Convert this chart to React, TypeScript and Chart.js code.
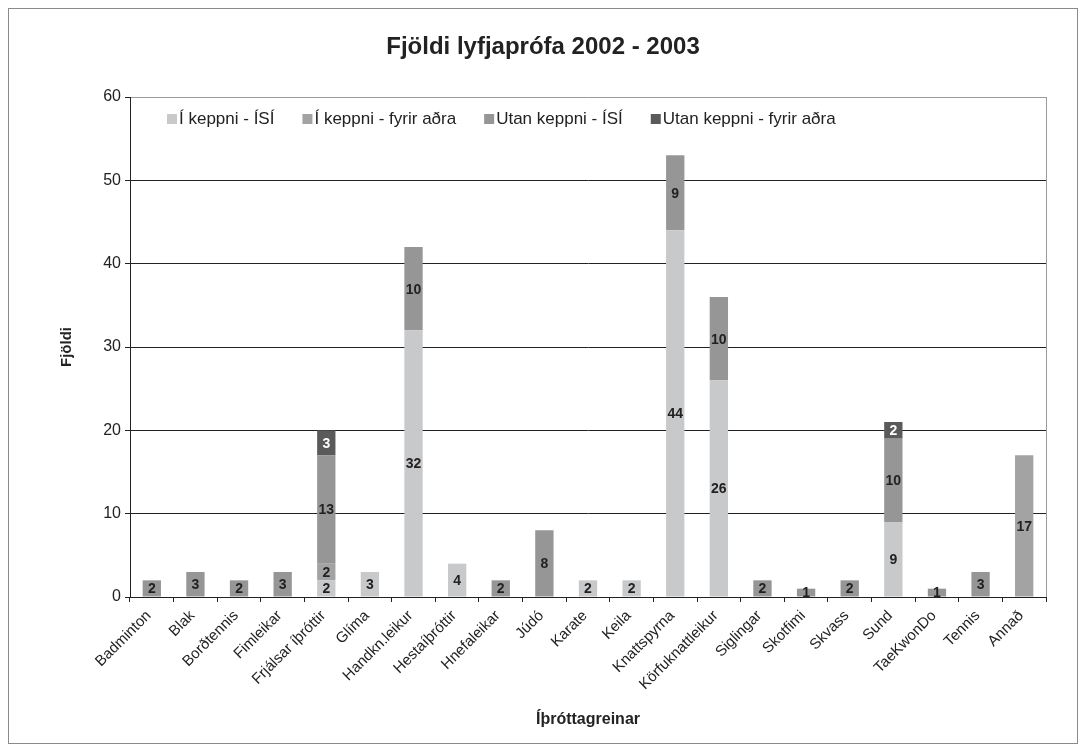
import { useEffect, useRef } from "react";
import { Chart, registerables } from "chart.js";
Chart.register(...registerables);

const categories = [
  "Badminton", "Blak", "Borðtennis", "Fimleikar", "Frjálsar íþróttir", "Glíma",
  "Handkn.leikur", "Hestaíþróttir", "Hnefaleikar", "Júdó", "Karate", "Keila",
  "Knattspyrna", "Körfuknattleikur", "Siglingar", "Skotfimi", "Skvass", "Sund",
  "TaeKwonDo", "Tennis", "Annað",
];
const seriesNames = ["Í keppni - ÍSÍ", "Í keppni - fyrir aðra", "Utan keppni - ÍSÍ", "Utan keppni - fyrir aðra"];
const iKeppniISI = [0, 0, 0, 0, 2, 3, 32, 4, 0, 0, 2, 2, 44, 26, 0, 0, 0, 9, 0, 0, 0];
const iKeppniAdra = [0, 0, 0, 0, 2, 0, 0, 0, 0, 0, 0, 0, 0, 0, 0, 0, 0, 0, 0, 0, 17];
const utanISI = [2, 3, 2, 3, 13, 0, 10, 0, 2, 8, 0, 0, 9, 10, 2, 1, 2, 10, 1, 3, 0];
const utanAdra = [0, 0, 0, 0, 3, 0, 0, 0, 0, 0, 0, 0, 0, 0, 0, 0, 0, 2, 0, 0, 0];
const colors = ["#c8c9cb", "#a3a3a3", "#969696", "#5a5a5a"];
const yTicks = [0, 10, 20, 30, 40, 50, 60];
const title = "Fjöldi lyfjaprófa 2002 - 2003";
const xTitle = "Íþróttagreinar";
const yTitle = "Fjöldi";

const FONT = "'Liberation Sans', Arial, Helvetica, sans-serif";

export default function App() {
  const ref = useRef<HTMLCanvasElement>(null);
  useEffect(() => {
    if (!ref.current) return;
    const decor = {
      id: "decor",
      afterDatasetsDraw(chart: any) {
        const ctx = chart.ctx;
        ctx.save();
        ctx.font = `bold 14px ${FONT}`;
        ctx.textAlign = "center";
        ctx.textBaseline = "middle";
        chart.data.datasets.forEach((ds: any, di: number) => {
          const meta = chart.getDatasetMeta(di);
          meta.data.forEach((el: any, i: number) => {
            const v = ds.data[i];
            if (!v) return;
            const p = el.getProps(["x", "y", "base"], true);
            ctx.fillStyle = di === 3 ? "#ffffff" : "#222222";
            ctx.fillText(String(v), p.x, (p.y + p.base) / 2 + 1);
          });
        });
        ctx.restore();
      },
      afterDraw(chart: any) {
        const ctx = chart.ctx;
        const a = chart.chartArea;
        ctx.save();
        ctx.strokeStyle = "#9a9a9a";
        ctx.lineWidth = 1;
        ctx.beginPath();
        ctx.moveTo(Math.round(a.right) + 0.5, a.top);
        ctx.lineTo(Math.round(a.right) + 0.5, a.bottom);
        ctx.stroke();
        ctx.fillStyle = "#222222";
        ctx.font = `bold 24px ${FONT}`;
        ctx.textAlign = "center";
        ctx.textBaseline = "middle";
        ctx.fillText(title, chart.width / 2, 38);
        ctx.font = `bold 16px ${FONT}`;
        ctx.fillText(xTitle, (a.left + a.right) / 2, 711);
        ctx.font = `bold 15px ${FONT}`;
        ctx.save();
        ctx.translate(58, (a.top + a.bottom) / 2);
        ctx.rotate(-Math.PI / 2);
        ctx.fillText(yTitle, 0, 0);
        ctx.restore();
        ctx.font = `17px ${FONT}`;
        ctx.textAlign = "left";
        let x = 158;
        const y = 110;
        chart.data.datasets.forEach((ds: any) => {
          ctx.fillStyle = ds.backgroundColor;
          ctx.fillRect(x, y - 5, 10, 10);
          x += 12;
          ctx.fillStyle = "#222222";
          ctx.fillText(ds.label, x, y);
          x += ctx.measureText(ds.label).width + 28;
        });
        ctx.restore();
      },
    };
    const chart = new Chart(ref.current, {
      type: "bar",
      data: {
        labels: categories,
        datasets: [iKeppniISI, iKeppniAdra, utanISI, utanAdra].map((d, i) => ({
          label: seriesNames[i],
          data: d,
          backgroundColor: colors[i],
          borderWidth: 0,
          barPercentage: 1,
          categoryPercentage: 0.42,
        })),
      },
      options: {
        animation: false,
        responsive: false,
        devicePixelRatio: 1,
        layout: { padding: { top: 88, right: 31, left: 0, bottom: 0 } },
        plugins: { legend: { display: false }, title: { display: false }, tooltip: { enabled: false } },
        scales: {
          x: {
            stacked: true,
            afterFit: (s: any) => { s.height = 146; },
            ticks: {
              autoSkip: false,
              minRotation: 45,
              maxRotation: 45,
              color: "#222222",
              font: { size: 15, family: FONT },
              padding: 5,
              labelOffset: -3,
            },
            grid: { drawOnChartArea: false, drawTicks: true, tickLength: 5, color: "#222222" },
            border: { color: "#222222", width: 1 },
          },
          y: {
            stacked: true,
            min: 0,
            max: 60,
            afterFit: (s: any) => { s.width = 121; },
            afterBuildTicks: (s: any) => { s.ticks = yTicks.map((v) => ({ value: v })); },
            ticks: { color: "#222222", font: { size: 16, family: FONT }, padding: 4 },
            grid: {
              color: (c: any) => (c.tick && c.tick.value === 60 ? "#9a9a9a" : "#222222"),
              tickColor: "#222222",
              tickLength: 5,
              lineWidth: 1,
            },
            border: { color: "#222222", width: 1 },
          },
        },
      },
      plugins: [decor],
    });
    return () => chart.destroy();
  }, []);
  return (
    <div style={{ width: 1070, height: 736, border: "1px solid #8a8a8a", boxSizing: "border-box", background: "#fff" }}>
      <canvas ref={ref} width={1068} height={734} style={{ display: "block" }} />
    </div>
  );
}
